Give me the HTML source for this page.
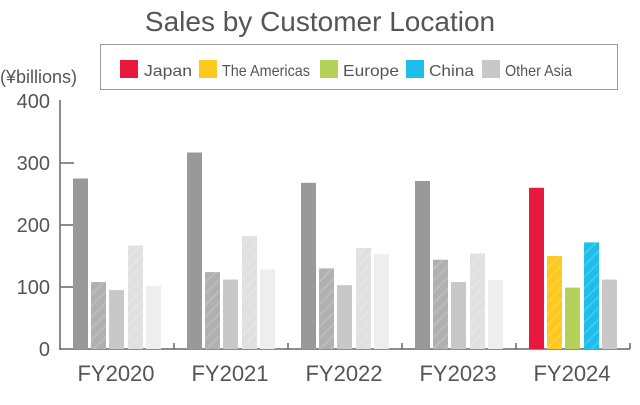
<!DOCTYPE html><html><head><style>body{margin:0;background:#fff}</style></head><body>
<svg width="640" height="400" xmlns="http://www.w3.org/2000/svg" font-family="Liberation Sans, sans-serif" fill="#555">
<defs><pattern id="h" width="8" height="8" patternUnits="userSpaceOnUse" patternTransform="rotate(45)"><rect width="2" height="8" fill="#fff" opacity="0.15"/></pattern></defs>
<text x="320" y="31" font-size="28" text-anchor="middle">Sales by Customer Location</text>
<rect x="100.5" y="44.5" width="517" height="45" fill="#fff" stroke="#999"/>
<rect x="120" y="60" width="18" height="18" fill="#e8193c"/><text x="144" y="76" font-size="16" textLength="48" lengthAdjust="spacingAndGlyphs">Japan</text>
<rect x="199" y="60" width="18" height="18" fill="#ffc81e"/><text x="222" y="76" font-size="16" textLength="88" lengthAdjust="spacingAndGlyphs">The Americas</text>
<rect x="320" y="60" width="18" height="18" fill="#b4d25a"/><text x="343" y="76" font-size="16" textLength="56" lengthAdjust="spacingAndGlyphs">Europe</text>
<rect x="406" y="60" width="18" height="18" fill="#1ebeeb"/><text x="429" y="76" font-size="16" textLength="45" lengthAdjust="spacingAndGlyphs">China</text>
<rect x="482" y="60" width="18" height="18" fill="#c8c8c8"/><text x="505" y="76" font-size="16" textLength="67" lengthAdjust="spacingAndGlyphs">Other Asia</text>
<text x="0" y="83" font-size="18">(¥billions)</text>
<g font-size="20" text-anchor="end">
<text x="50" y="108">400</text><text x="50" y="170">300</text><text x="50" y="232">200</text><text x="50" y="294">100</text><text x="50" y="356">0</text></g>
<g stroke="#666" stroke-width="1.5">
<line x1="60" y1="100" x2="60" y2="350"/><line x1="60" y1="349" x2="630" y2="349"/>
<line x1="60" y1="163" x2="74" y2="163"/><line x1="60" y1="225" x2="74" y2="225"/><line x1="60" y1="287" x2="74" y2="287"/>
<line x1="174" y1="343" x2="174" y2="349"/><line x1="288" y1="343" x2="288" y2="349"/><line x1="402" y1="343" x2="402" y2="349"/><line x1="516" y1="343" x2="516" y2="349"/><line x1="630" y1="343" x2="630" y2="349"/></g>
<g>
<rect x="73" y="178.5" width="15" height="170.5" fill="#999"/>
<rect x="91" y="282" width="15" height="67" fill="#b0b0b0"/><rect x="91" y="282" width="15" height="67" fill="url(#h)"/>
<rect x="109" y="290.1" width="15" height="58.9" fill="#c8c8c8"/>
<rect x="128" y="245.5" width="15" height="103.5" fill="#e0e0e0"/><rect x="128" y="245.5" width="15" height="103.5" fill="url(#h)"/>
<rect x="146" y="285.8" width="15" height="63.2" fill="#eeeeee"/>

<rect x="187" y="152.5" width="15" height="196.5" fill="#999"/>
<rect x="205" y="272.1" width="15" height="76.9" fill="#b0b0b0"/><rect x="205" y="272.1" width="15" height="76.9" fill="url(#h)"/>
<rect x="223" y="279.6" width="15" height="69.4" fill="#c8c8c8"/>
<rect x="242" y="236.2" width="15" height="112.8" fill="#e0e0e0"/><rect x="242" y="236.2" width="15" height="112.8" fill="url(#h)"/>
<rect x="260" y="269.6" width="15" height="79.4" fill="#eeeeee"/>

<rect x="301" y="182.8" width="15" height="166.2" fill="#999"/>
<rect x="319" y="268.4" width="15" height="80.6" fill="#b0b0b0"/><rect x="319" y="268.4" width="15" height="80.6" fill="url(#h)"/>
<rect x="337" y="285.1" width="15" height="63.9" fill="#c8c8c8"/>
<rect x="356" y="247.9" width="15" height="101.1" fill="#e0e0e0"/><rect x="356" y="247.9" width="15" height="101.1" fill="url(#h)"/>
<rect x="374" y="254.1" width="15" height="94.9" fill="#eeeeee"/>

<rect x="415" y="181" width="15" height="168" fill="#999"/>
<rect x="433" y="259.7" width="15" height="89.3" fill="#b0b0b0"/><rect x="433" y="259.7" width="15" height="89.3" fill="url(#h)"/>
<rect x="451" y="282" width="15" height="67" fill="#c8c8c8"/>
<rect x="470" y="253.5" width="15" height="95.5" fill="#e0e0e0"/><rect x="470" y="253.5" width="15" height="95.5" fill="url(#h)"/>
<rect x="488" y="280.2" width="15" height="68.8" fill="#eeeeee"/>

<rect x="529" y="187.8" width="15" height="161.2" fill="#e8193c"/>
<rect x="547" y="256" width="15" height="93" fill="#ffc81e"/><rect x="547" y="256" width="15" height="93" fill="url(#h)"/>
<rect x="565" y="287.6" width="15" height="61.4" fill="#b4d25a"/>
<rect x="584" y="242.4" width="15" height="106.6" fill="#1ebeeb"/><rect x="584" y="242.4" width="15" height="106.6" fill="url(#h)"/>
<rect x="602" y="279.6" width="15" height="69.4" fill="#c8c8c8"/>
</g>
<g font-size="22" text-anchor="middle">
<text x="116" y="381">FY2020</text><text x="230" y="381">FY2021</text><text x="344" y="381">FY2022</text><text x="458" y="381">FY2023</text><text x="572" y="381">FY2024</text></g>
</svg></body></html>
